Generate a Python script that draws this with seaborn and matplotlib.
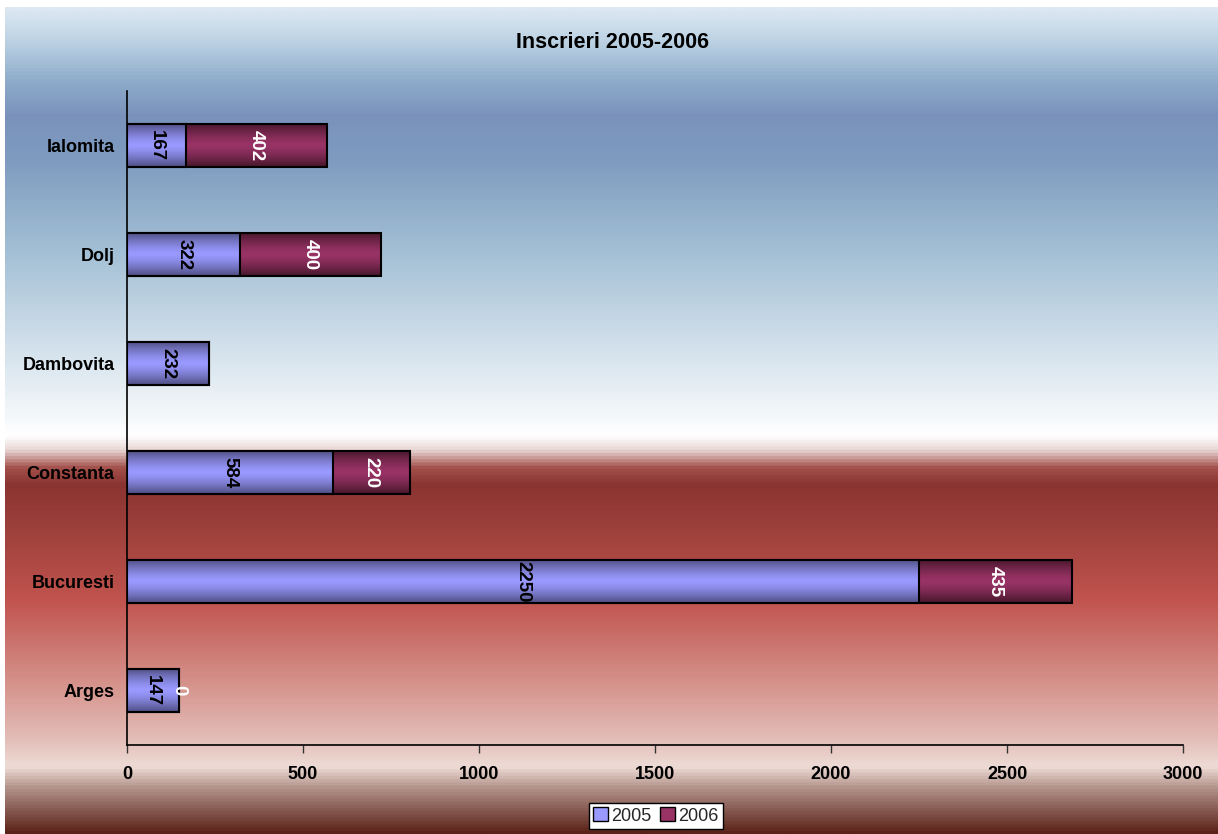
import numpy as np
import pandas as pd
import matplotlib
matplotlib.use("Agg")
import matplotlib.pyplot as plt
from matplotlib.colors import LinearSegmentedColormap
from matplotlib.patches import Patch
import seaborn as sns

regions = ["Ialomita", "Dolj", "Dambovita", "Constanta", "Bucuresti", "Arges"]
v2005 = [167, 322, 232, 584, 2250, 147]
v2006 = [402, 400, None, 220, 435, 0]
xticks = [0, 500, 1000, 1500, 2000, 2500, 3000]
title = "Inscrieri 2005-2006"

sns.set_theme(style="white")
plt.rcParams["font.family"] = ["Liberation Sans", "DejaVu Sans"]

df = pd.DataFrame({"region": regions, "y2005": v2005,
                   "y2006": [np.nan if v is None else v for v in v2006]})
df["total"] = df["y2005"] + df["y2006"].fillna(0)

W, H = 1218, 834
fig = plt.figure(figsize=(W / 100, H / 100), dpi=100)
fig.patch.set_facecolor("white")

# background gradient
stops_px = [7, 40, 80, 115, 160, 250, 350, 420, 436, 450, 468, 485, 540, 600,
            680, 740, 768, 790, 834]
stops_col = ["#dde9f3", "#bcd2e3", "#8eabca", "#7a92bb", "#7f9cc0", "#a3bfd5",
             "#d4e2ec", "#f6f9fb", "#ffffff", "#e8d6d4", "#a24f4a", "#8a3431",
             "#a2433e", "#c1534e", "#d48f88", "#e3bdb7", "#eedcd6", "#b09088",
             "#5a2218"]
pos = [(p - 7) / (834 - 7) for p in stops_px]
bg_cmap = LinearSegmentedColormap.from_list("bg", list(zip(pos, stops_col)))
bg_ax = fig.add_axes([5 / W, 0, 1 - 5 / W, (H - 7) / H], zorder=-5)
bg_ax.imshow(np.linspace(0, 1, 512).reshape(-1, 1), cmap=bg_cmap,
             aspect="auto", extent=[0, 1, 1, 0])
bg_ax.set_xlim(0, 1); bg_ax.set_ylim(1, 0)
bg_ax.axis("off")

ax = fig.add_axes([127 / W, (H - 745) / H, (1183 - 127) / W, (745 - 91) / H])
ax.set_facecolor("none")

sns.barplot(data=df, y="region", x="total", orient="h", color="#993366",
            width=0.4, edgecolor="black", linewidth=1.5, ax=ax, order=regions)
sns.barplot(data=df, y="region", x="y2005", orient="h", color="#9999ff",
            width=0.4, edgecolor="black", linewidth=1.5, ax=ax, order=regions)

n = len(regions)
grad = np.abs(np.linspace(-1, 1, 256)) ** 1.4
grad = grad.reshape(-1, 1)
cm06 = LinearSegmentedColormap.from_list("c06", ["#993366", "#451629"])
cm05 = LinearSegmentedColormap.from_list("c05", ["#9999ff", "#4d4d80"])
for i, p in enumerate(ax.patches):
    cm = cm06 if i < n else cm05
    z = 2 if i < n else 3
    x0, y0 = p.get_x(), p.get_y()
    w, h = p.get_width(), p.get_height()
    if w <= 0:
        continue
    ax.imshow(grad, cmap=cm, aspect="auto", extent=[x0, x0 + w, y0 + h, y0],
              zorder=z, interpolation="bilinear")
    p.set_facecolor("none")
    p.set_zorder(z + 0.5)

ax.set_xlim(0, 3000)
ax.set_ylim(n - 0.5, -0.5)

for i in range(n):
    a = v2005[i]
    ax.text(a / 2, i, str(a), rotation=270, ha="center", va="center",
            fontsize=13.5, fontweight="bold", color="black", zorder=6)
    b = v2006[i]
    if b is not None:
        ax.text(a + b / 2, i, str(b), rotation=270, ha="center", va="center",
                fontsize=13.5, fontweight="bold", color="white", zorder=6)

ax.set_xticks(xticks)
ax.set_xticklabels([str(t) for t in xticks], fontsize=13, fontweight="bold")
ax.set_yticks(range(n))
ax.set_yticklabels(regions, fontsize=13, fontweight="bold")
ax.set_xlabel(""); ax.set_ylabel("")
for s in ["top", "right"]:
    ax.spines[s].set_visible(False)
for s in ["left", "bottom"]:
    ax.spines[s].set_color("black")
    ax.spines[s].set_linewidth(1.2)
ax.tick_params(axis="x", bottom=True, length=6, width=1, color="#333333",
               direction="out", pad=9, labelcolor="black")
ax.tick_params(axis="y", left=False, length=0, pad=9, labelcolor="black")

fig.text(613 / W, 1 - 43 / H, title, ha="center", va="center",
         fontsize=15.5, fontweight="bold", color="black")

handles = [Patch(facecolor="#9999ff", edgecolor="black", label="2005"),
           Patch(facecolor="#993366", edgecolor="black", label="2006")]
leg = fig.legend(handles=handles, loc="center", bbox_to_anchor=(656 / W, 18 / H),
                 ncol=2, fontsize=13, frameon=True, fancybox=False,
                 handlelength=0.8, handleheight=0.8, handletextpad=0.2,
                 columnspacing=0.5, borderpad=0.25, borderaxespad=0)
leg.get_frame().set_edgecolor("black")
leg.get_frame().set_facecolor("white")
leg.get_frame().set_alpha(1)

fig.savefig("out.png", dpi=100)
